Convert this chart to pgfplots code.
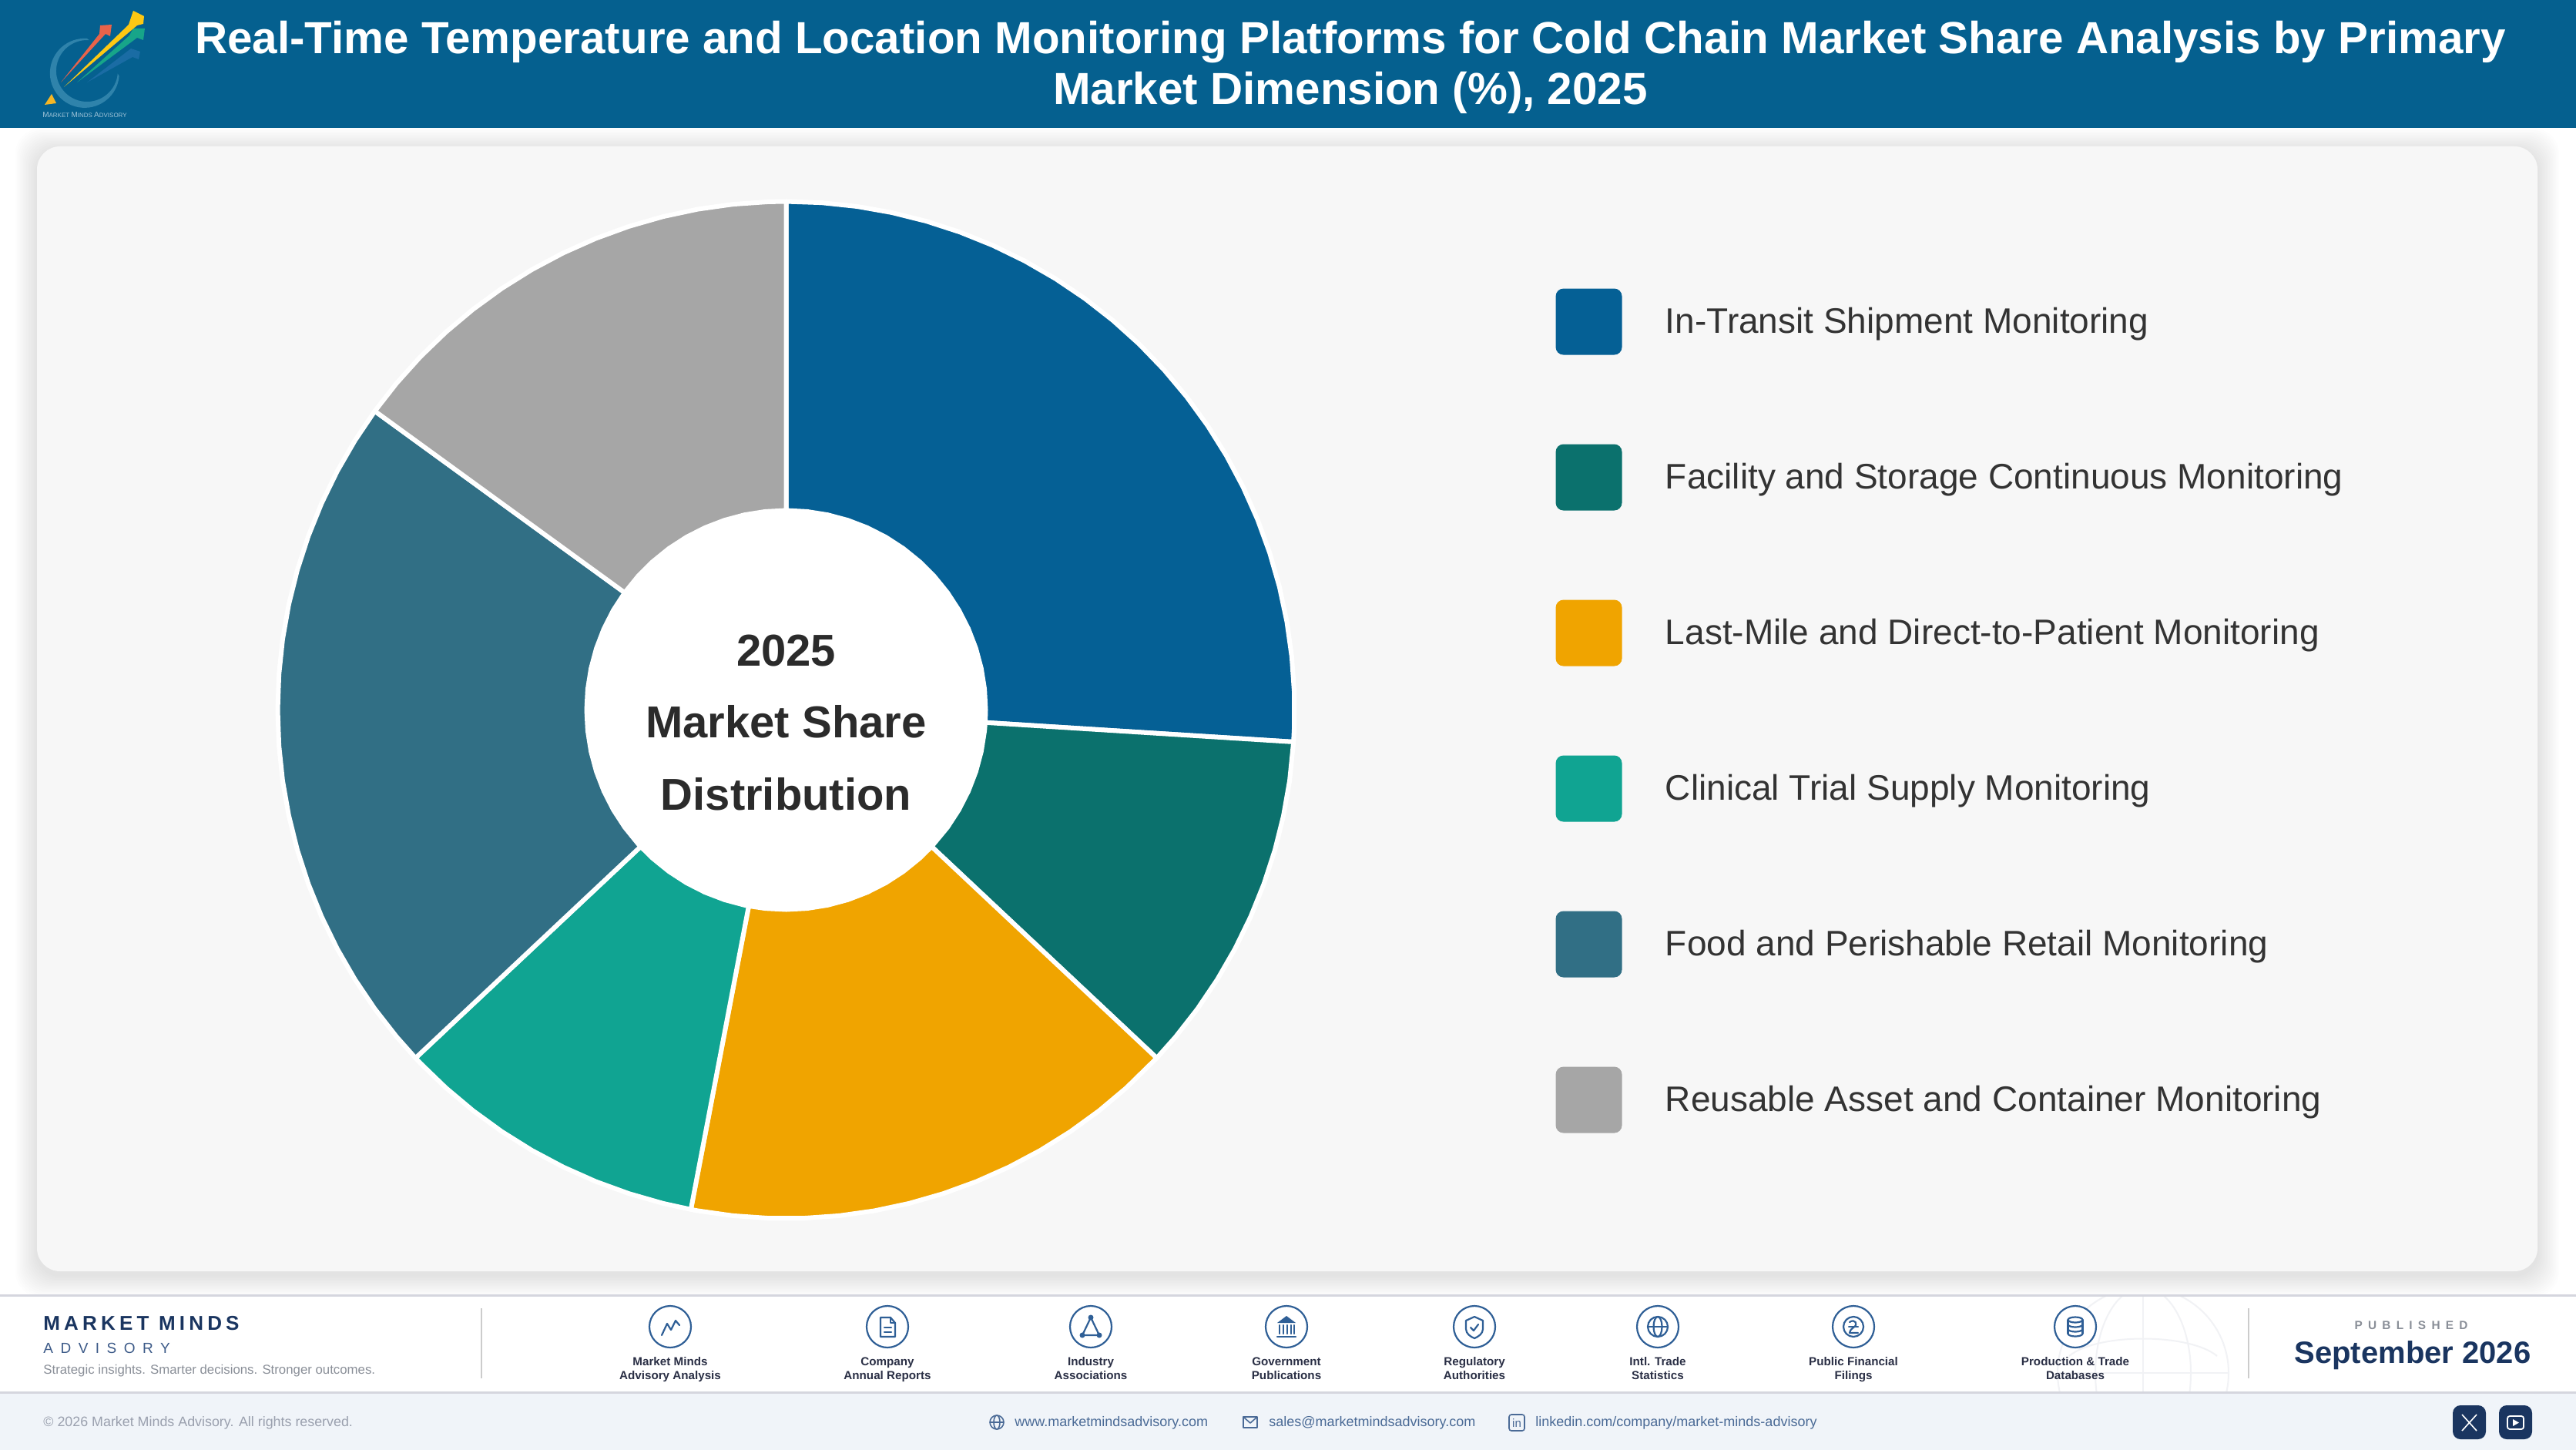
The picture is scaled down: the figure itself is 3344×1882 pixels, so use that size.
\documentclass[border=0pt]{standalone}
\usepackage{fontspec}
\setmainfont{Liberation Sans}
\usepackage{pgfplots}
\pgfplotsset{compat=1.18}
\usepgfplotslibrary{polar}
\definecolor{hdr}{HTML}{05608F}
\definecolor{cA}{HTML}{056095}
\definecolor{cB}{HTML}{0B716D}
\definecolor{cC}{HTML}{F0A400}
\definecolor{cD}{HTML}{10A492}
\definecolor{cE}{HTML}{316F85}
\definecolor{cF}{HTML}{A6A6A6}
\definecolor{navy}{HTML}{1A3560}
\definecolor{icon}{HTML}{2F5F96}
\definecolor{lab}{HTML}{2A2F45}
\definecolor{mut}{HTML}{8A8F98}
\definecolor{link}{HTML}{4A6A96}
\definecolor{lgarc}{HTML}{2F83AB}
\definecolor{lgO}{HTML}{F5B625}
\definecolor{lgB}{HTML}{1A6CA4}
\definecolor{lgG}{HTML}{17A589}
\definecolor{lgY}{HTML}{FDC813}
\definecolor{lgR}{HTML}{E8634A}
\definecolor{lgT}{HTML}{A0C4D8}
\definecolor{card}{HTML}{F7F7F7}
\definecolor{bot}{HTML}{F0F4F9}
\definecolor{wm}{HTML}{F1F2F5}
\definecolor{rule}{HTML}{D5D6DE}
\definecolor{vr}{HTML}{CCCCCC}
\definecolor{adv}{HTML}{3C5A88}
\definecolor{copyr}{HTML}{9AA0AE}
\definecolor{ctr}{HTML}{2B2B2B}
\newcommand{\fs}[1]{\fontsize{#1}{#1}\selectfont}
\begin{document}
\begin{tikzpicture}
\begin{scope}[x=0.5pt,y=-0.5pt]
\useasboundingbox (0,0) rectangle (3344,1882);
\fill[white] (0,0) rectangle (3344,1882);
% header
\fill[hdr] (0,0) rectangle (3344,166);
% logo
\fill[lgarc] (113,50) arc[start angle=274,delta angle=-269,radius=45] -- (152.8,95.5) arc[start angle=5,delta angle=269,radius=40] -- cycle;
\fill[lgO] (58,136) -- (67,122) -- (73,134) -- cycle;
\fill[lgB] (113,107) -- (170,63) -- (182,67) -- (180,77) -- (172,74) -- cycle;
\fill[lgG] (100,107) -- (168,46) -- (173,37) -- (188,37) -- (186,52) -- (178,49) -- cycle;
\fill[lgY] (83,113) -- (167,32) -- (173,14) -- (187,21) -- (186,31) -- (178,33) -- cycle;
\fill[lgR] (79,107) -- (129,44) -- (130,33) -- (145,32) -- (143,47) -- (137,44) -- cycle;
\node[anchor=base,inner sep=0,text=lgT] at (110,153) {\fs{5}M\fs{4}ARKET \fs{5}M\fs{4}INDS \fs{5}A\fs{4}DVISORY};
% title
\node[anchor=base,inner sep=0,text=white] at (1753,70) {\fs{29.17}\bfseries Real-Time Temperature and Location Monitoring Platforms for Cold Chain Market Share Analysis by Primary};
\node[anchor=base,inner sep=0,text=white] at (1753,136) {\fs{29.17}\bfseries Market Dimension (\%), 2025};
% card shadow
\foreach \i in {1,...,14}{
  \fill[black,opacity=0.007,rounded corners=16pt] (48-2*\i,190-2*\i+5) rectangle (3294+2*\i,1650+2*\i+5);
}
\fill[card,rounded corners=15pt] (48,190) rectangle (3294,1650);
% hole of the ring
\fill[white] (1020.5,921.5) circle[radius=262];
% footer
\fill[white] (0,1681) rectangle (3344,1807);
\fill[bot] (0,1807) rectangle (3344,1882);
\begin{scope}
\clip (2600,1682) rectangle (2910,1806);
\draw[wm,line width=1pt] (2782,1782) circle[radius=111];
\draw[wm,line width=1pt] (2782,1782) ellipse[x radius=62,y radius=111];
\draw[wm,line width=1pt] (2671,1782) -- (2893,1782);
\draw[wm,line width=1pt] (2782,1675) -- (2782,1889);
\draw[wm,line width=1pt] (2686,1760) .. controls (2722,1730) and (2842,1730) .. (2878,1760);
\end{scope}
\fill[rule] (0,1679.5) rectangle (3344,1682.5);
\fill[rule] (0,1805.5) rectangle (3344,1808.5);
\draw[vr,line width=1pt] (624.5,1698) -- (624.5,1789);
\draw[vr,line width=1pt] (2919,1698) -- (2919,1789);
\node[anchor=base west,inner sep=0,text=navy] at (56,1726) {\fs{13}\addfontfeature{LetterSpace=20}\bfseries MARKET MINDS};
\node[anchor=base west,inner sep=0,text=adv] at (56,1756) {\fs{9.5}\addfontfeature{LetterSpace=50}ADVISORY};
\node[anchor=base west,inner sep=0,text=mut] at (56,1783) {\fs{8.4}Strategic insights. Smarter decisions. Stronger outcomes.};
% source items
\foreach \cx/\la/\lb in {870/Market Minds/Advisory Analysis,1152/Company/Annual Reports,1416/Industry/Associations,1670/Government/Publications,1914/Regulatory/Authorities,2152/Intl. Trade/Statistics,2406/Public Financial/Filings,2694/Production \& Trade/Databases}{
  \draw[icon,line width=1.1pt,fill=white] (\cx,1722) circle[radius=27];
  \node[anchor=base,inner sep=0,text=lab] at (\cx,1772) {\fs{7.6}\bfseries \la};
  \node[anchor=base,inner sep=0,text=lab] at (\cx,1790) {\fs{7.6}\bfseries \lb};
}
\begin{scope}[icon,line width=1.1pt,line join=round,line cap=round]
% chart
\draw (859,1733) -- (866,1718) -- (871,1726) -- (877,1714) -- (882,1720);
% document
\draw (1143,1710) -- (1156,1710) -- (1162,1717) -- (1162,1735) -- (1143,1735) -- cycle;
\draw (1156,1710) -- (1156,1717) -- (1162,1717);
\draw (1148,1723) -- (1157,1723) (1148,1729) -- (1157,1729);
% triangle
\draw (1416,1710) -- (1405,1733) -- (1427,1733) -- cycle;
\fill (1416,1710) circle[radius=3.5] (1405,1733) circle[radius=3.5] (1427,1733) circle[radius=3.5];
% building
\fill (1670,1708) -- (1682,1717) -- (1658,1717) -- cycle;
\draw (1661,1720) -- (1661,1731) (1666,1720) -- (1666,1731) (1671,1720) -- (1671,1731) (1676,1720) -- (1676,1731) (1680,1720) -- (1680,1731);
\draw (1658,1735) -- (1682,1735);
% shield
\draw (1914,1709) -- (1925,1714) -- (1925,1725) .. controls (1925,1731) and (1919,1735) .. (1914,1737) .. controls (1909,1735) and (1903,1731) .. (1903,1725) -- (1903,1714) -- cycle;
\draw (1909,1723) -- (1913,1727) -- (1919,1719);
% globe
\draw (2152,1722) circle[radius=13];
\draw (2152,1722) ellipse[x radius=5.5,y radius=13];
\draw (2139,1722) -- (2165,1722);
% coin
\draw (2406,1722) circle[radius=13];
\draw (2401,1716) .. controls (2408,1711) and (2413,1719) .. (2406,1723) .. controls (2402,1726) and (2401,1728) .. (2401,1730) -- (2412,1730);
\draw (2400,1722) -- (2412,1722);
% database
\draw (2694,1713) ellipse[x radius=9.5,y radius=3.5];
\draw (2684.5,1713) -- (2684.5,1731) (2703.5,1713) -- (2703.5,1731);
\draw (2684.5,1719) arc[start angle=180,end angle=360,x radius=9.5,y radius=-3.5];
\draw (2684.5,1725) arc[start angle=180,end angle=360,x radius=9.5,y radius=-3.5];
\draw (2684.5,1731) arc[start angle=180,end angle=360,x radius=9.5,y radius=-3.5];
\end{scope}
% published
\node[anchor=base,inner sep=0,text=mut] at (3130,1725) {\fs{7.7}\addfontfeature{LetterSpace=47}\bfseries PUBLISHED};
\node[anchor=base,inner sep=0,text=navy] at (3132,1769) {\fs{20}\bfseries September 2026};
% bottom bar
\node[anchor=base west,inner sep=0,text=copyr] at (56,1851) {\fs{8.93}© 2026 Market Minds Advisory. All rights reserved.};
\node[anchor=base west,inner sep=0,text=link] at (1317,1851) {\fs{9}www.marketmindsadvisory.com};
\node[anchor=base west,inner sep=0,text=link] at (1647,1851) {\fs{9}sales@marketmindsadvisory.com};
\node[anchor=base west,inner sep=0,text=link] at (1993,1851) {\fs{9}linkedin.com/company/market-minds-advisory};
\begin{scope}[link,line width=0.8pt,line join=round]
\draw (1294,1846) circle[radius=9];
\draw (1294,1846) ellipse[x radius=4,y radius=9];
\draw (1285,1846) -- (1303,1846);
\draw (1614,1839) rectangle (1632,1853);
\draw (1614,1839) -- (1623,1847) -- (1632,1839);
\draw[rounded corners=1.5pt] (1959,1836) rectangle (1979,1857);
\node[anchor=base,inner sep=0,text=link] at (1969,1852) {\fs{7.5}in};
\end{scope}
\fill[navy,rounded corners=5pt] (3184,1824) rectangle (3227,1868);
\fill[navy,rounded corners=5pt] (3244,1824) rectangle (3287,1868);
\draw[white,line width=0.8pt] (3196,1836) -- (3215,1857) (3215,1836) -- (3196,1857);
\draw[white,line width=0.9pt,rounded corners=1.5pt] (3255,1838) rectangle (3276,1855);
\fill[white] (3262,1842) -- (3262,1851) -- (3270,1846.5) -- cycle;
\end{scope}
\begin{polaraxis}[
  at={(510.25pt,-460.75pt)},anchor=center,
  width=700pt,height=700pt,scale only axis,
  xmin=-270,xmax=90,ymin=0,ymax=700,
  hide axis,clip=false,
  legend cell align=left,
  legend style={draw=none,fill=none,inner sep=0pt,outer sep=0pt,
    at={(1.2136,0.8907)},anchor=north west,
    font=\fs{23}\color[HTML]{333333},
    row sep=58pt,
    nodes={inner sep=0pt,outer sep=0pt}},
  legend image code/.code={\fill[#1,draw=none,rounded corners=5pt] (0pt,-21.5pt) rectangle (43pt,21.5pt);\path (69.7pt,0pt);},
  every axis plot/.append style={draw=white,line width=3pt,line join=round},
]
% shares: 26, 11, 16, 10, 22, 15 per cent (clockwise from the top)
\addplot[fill=cA] coordinates {(90,660)(86,660)(82,660)(78,660)(74,660)(70,660)(66,660)(62,660)(58,660)(54,660)(50,660)(46,660)(42,660)(38,660)(34,660)(30,660)(26,660)(22,660)(18,660)(14,660)(10,660)(6,660)(2,660)(-2,660)(-3.6,660)
 (-3.6,259)(0,259)(6,259)(12,259)(18,259)(24,259)(30,259)(36,259)(42,259)(48,259)(54,259)(60,259)(66,259)(72,259)(78,259)(84,259)(90,259)} -- cycle;
\addlegendentry{In-Transit Shipment Monitoring}
\addplot[fill=cB] coordinates {(-3.6,660)(-8,660)(-12,660)(-16,660)(-20,660)(-24,660)(-28,660)(-32,660)(-36,660)(-40,660)(-43.2,660)
 (-43.2,259)(-36,259)(-30,259)(-24,259)(-18,259)(-12,259)(-6,259)(-3.6,259)} -- cycle;
\addlegendentry{Facility and Storage Continuous Monitoring}
\addplot[fill=cC] coordinates {(-43.2,660)(-48,660)(-52,660)(-56,660)(-60,660)(-64,660)(-68,660)(-72,660)(-76,660)(-80,660)(-84,660)(-88,660)(-92,660)(-96,660)(-100,660)(-100.8,660)
 (-100.8,259)(-96,259)(-90,259)(-84,259)(-78,259)(-72,259)(-66,259)(-60,259)(-54,259)(-48,259)(-43.2,259)} -- cycle;
\addlegendentry{Last-Mile and Direct-to-Patient Monitoring}
\addplot[fill=cD] coordinates {(-100.8,660)(-104,660)(-108,660)(-112,660)(-116,660)(-120,660)(-124,660)(-128,660)(-132,660)(-136,660)(-136.8,660)
 (-136.8,259)(-132,259)(-126,259)(-120,259)(-114,259)(-108,259)(-102,259)(-100.8,259)} -- cycle;
\addlegendentry{Clinical Trial Supply Monitoring}
\addplot[fill=cE] coordinates {(-136.8,660)(-140,660)(-144,660)(-148,660)(-152,660)(-156,660)(-160,660)(-164,660)(-168,660)(-172,660)(-176,660)(-180,660)(-184,660)(-188,660)(-192,660)(-196,660)(-200,660)(-204,660)(-208,660)(-212,660)(-216,660)
 (-216,259)(-210,259)(-204,259)(-198,259)(-192,259)(-186,259)(-180,259)(-174,259)(-168,259)(-162,259)(-156,259)(-150,259)(-144,259)(-138,259)(-136.8,259)} -- cycle;
\addlegendentry{Food and Perishable Retail Monitoring}
\addplot[fill=cF] coordinates {(-216,660)(-220,660)(-224,660)(-228,660)(-232,660)(-236,660)(-240,660)(-244,660)(-248,660)(-252,660)(-256,660)(-260,660)(-264,660)(-268,660)(-270,660)
 (-270,259)(-264,259)(-258,259)(-252,259)(-246,259)(-240,259)(-234,259)(-228,259)(-222,259)(-216,259)} -- cycle;
\addlegendentry{Reusable Asset and Container Monitoring}
\end{polaraxis}
\begin{scope}[x=0.5pt,y=-0.5pt]
\node[anchor=base,inner sep=0,text=ctr] at (1020.5,864) {\fs{29}\bfseries 2025};
\node[anchor=base,inner sep=0,text=ctr] at (1020.5,957.5) {\fs{29}\bfseries Market Share};
\node[anchor=base,inner sep=0,text=ctr] at (1020.5,1051) {\fs{29}\bfseries Distribution};
\end{scope}
\end{tikzpicture}
\end{document}
